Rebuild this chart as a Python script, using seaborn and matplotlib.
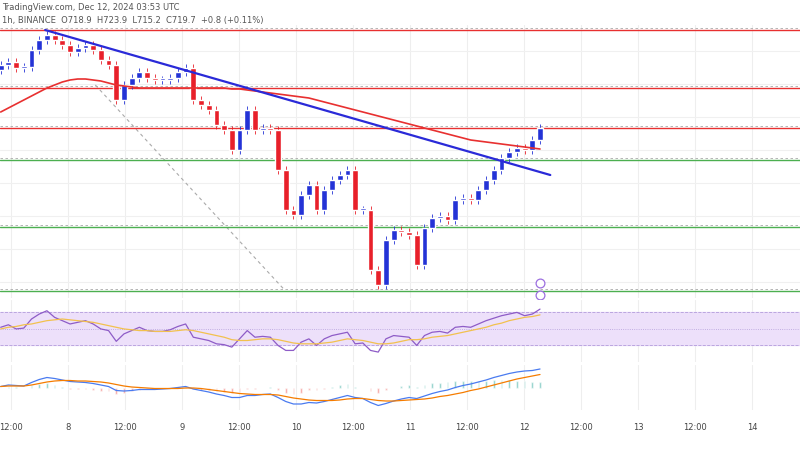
import matplotlib.pyplot as plt
import numpy as np
import pandas as pd
import seaborn as sns

sns.set_style("white")

# closes (price), one per candle
closes = [726.0, 726.3, 725.7, 725.8, 727.5, 728.5, 729.0, 728.5, 728.0, 727.3, 727.7,
          728.0, 727.5, 726.5, 726.0, 722.5, 724.0, 724.7, 725.3, 724.7, 724.5, 724.5,
          724.7, 725.3, 725.7, 722.5, 722.0, 721.5, 720.0, 719.5, 717.5, 719.5, 721.5,
          719.5, 719.7, 719.5, 715.5, 711.5, 711.0, 713.0, 714.0, 711.5, 713.5, 714.5,
          715.0, 715.5, 711.5, 711.5, 705.5, 704.0, 708.5, 709.5, 709.3, 709.0, 706.0,
          709.7, 710.7, 710.9, 710.5, 712.5, 712.7, 712.5, 713.5, 714.5, 715.5, 716.7,
          717.3, 717.7, 717.5, 718.5, 719.7]
rsi = [52, 55, 50, 51, 62, 68, 72, 64, 60, 56, 58, 60, 56, 50, 48, 35, 44, 48, 52, 48,
       47, 47, 49, 53, 56, 40, 38, 36, 32, 31, 28, 38, 48, 40, 41, 40, 30, 24, 24, 34,
       38, 30, 38, 42, 44, 46, 32, 33, 24, 22, 38, 42, 41, 40, 30, 42, 46, 47, 45, 52,
       53, 52, 56, 60, 63, 66, 68, 70, 66, 68, 74]
rsi_ma = [50, 52, 53, 55, 56, 58, 60, 61, 62, 61, 60, 59, 58, 56, 54, 52, 50, 49, 48, 48,
          47, 47, 47, 48, 49, 48, 46, 44, 42, 40, 37, 36, 36, 37, 38, 38, 37, 35, 33, 32,
          32, 32, 33, 34, 36, 38, 37, 36, 34, 32, 32, 33, 35, 37, 37, 38, 40, 41, 42, 44,
          46, 48, 50, 52, 55, 57, 60, 62, 64, 65, 67]
macd = [0.2, 0.5, 0.4, 0.3, 1.0, 1.6, 2.0, 1.8, 1.5, 1.2, 1.1, 1.0, 0.8, 0.5, 0.2, -0.6,
        -0.7, -0.6, -0.4, -0.4, -0.4, -0.3, -0.2, 0.0, 0.2, -0.3, -0.6, -0.9, -1.3, -1.6,
        -2.0, -2.0, -1.6, -1.6, -1.4, -1.3, -2.0, -2.8, -3.3, -3.3, -3.0, -3.1, -2.8, -2.4,
        -2.0, -1.6, -2.0, -2.2, -3.0, -3.6, -3.2, -2.7, -2.3, -2.0, -2.2, -1.7, -1.2, -0.8,
        -0.5, 0.0, 0.4, 0.7, 1.1, 1.5, 2.0, 2.4, 2.8, 3.1, 3.3, 3.4, 3.7]
signal = [0.2, 0.3, 0.3, 0.3, 0.5, 0.8, 1.1, 1.3, 1.4, 1.4, 1.3, 1.3, 1.2, 1.1, 0.9, 0.6,
          0.3, 0.1, 0.0, -0.1, -0.2, -0.2, -0.2, -0.2, -0.1, -0.1, -0.2, -0.4, -0.6, -0.8,
          -1.0, -1.2, -1.3, -1.4, -1.4, -1.4, -1.5, -1.8, -2.1, -2.3, -2.5, -2.6, -2.6, -2.6,
          -2.5, -2.3, -2.2, -2.2, -2.4, -2.6, -2.7, -2.7, -2.6, -2.5, -2.4, -2.3, -2.1, -1.8,
          -1.6, -1.3, -1.0, -0.6, -0.3, 0.1, 0.5, 0.9, 1.3, 1.7, 2.0, 2.3, 2.6]
ma100 = [721.3, 721.7, 722.1, 722.5, 722.9, 723.3, 723.7, 724.0, 724.3, 724.5, 724.6, 724.6,
         724.5, 724.4, 724.2, 724.0, 723.9, 723.8, 723.7, 723.7, 723.7, 723.7, 723.7, 723.7,
         723.7, 723.7, 723.7, 723.7, 723.7, 723.7, 723.6, 723.6, 723.5, 723.4, 723.3, 723.2,
         723.1, 723.0, 722.9, 722.8, 722.7, 722.5, 722.3, 722.1, 721.9, 721.7, 721.5, 721.3,
         721.1, 720.9, 720.7, 720.5, 720.3, 720.1, 719.9, 719.7, 719.5, 719.3, 719.1, 718.9,
         718.7, 718.5, 718.4, 718.3, 718.2, 718.1, 718.0, 717.9, 717.8, 717.7, 717.6]
red_levels = [729.5, 723.7, 719.7]
green_levels = [716.5, 709.8, 703.4]
trend_days = [7.8, 12.23]
trend_price = [729.5, 715.0]
day_ticks = [7.5, 8, 8.5, 9, 9.5, 10, 10.5, 11, 11.5, 12, 12.5, 13, 13.5, 14]
day_labels = ["12:00", "8", "12:00", "9", "12:00", "10", "12:00", "11", "12:00", "12",
              "12:00", "13", "12:00", "14"]

n = len(closes)
t = 7.41 + np.arange(n) * (12.14 - 7.41) / (n - 1)
opens = [closes[0] - 0.5] + closes[:-1]
df = pd.DataFrame({"t": t, "open": opens, "close": closes, "rsi": rsi, "rsi_ma": rsi_ma,
                   "macd": macd, "signal": signal, "ma": ma100})
up = "#2433d6"
dn = "#e8202a"

fig = plt.figure(figsize=(8, 4.5), dpi=100)
ax = fig.add_axes([0, 1 - 298 / 450, 1, 273 / 450])
ax2 = fig.add_axes([0, 1 - 362 / 450, 1, 62 / 450], sharex=ax)
ax3 = fig.add_axes([0, 1 - 410 / 450, 1, 45 / 450], sharex=ax)

for a in (ax, ax2, ax3):
    for d in day_ticks:
        a.axvline(d, color="#eeeeee", lw=0.8, zorder=0)
    a.set_yticks([])
    for s in a.spines.values():
        s.set_visible(False)
for p in np.arange(701, 732, 3.3):
    ax.axhline(p, color="#f0f0f0", lw=0.8, zorder=0)

w = (t[1] - t[0]) * 0.75
for _, r in df.iterrows():
    c = up if r.close >= r.open else dn
    lo, hi = min(r.open, r.close), max(r.open, r.close)
    ax.vlines(r.t, lo - 0.4, hi + 0.4, color=c, lw=0.6, zorder=3)
    ax.bar(r.t, max(hi - lo, 0.2), bottom=lo, width=w, color=c, zorder=3)

for lv in red_levels:
    ax.axhline(lv, color="#e83030", lw=1.0, zorder=2)
    ax.axhline(lv + 0.2, color="#aaaaaa", lw=0.6, ls=(0, (3, 3)), zorder=2)
for lv in green_levels:
    ax.axhline(lv, color="#4caf50", lw=1.0, zorder=2)
    ax.axhline(lv + 0.2, color="#aaaaaa", lw=0.6, ls=(0, (3, 3)), zorder=2)
sns.lineplot(data=df, x="t", y="ma", ax=ax, color="#e83030", lw=1.2, zorder=4)
ax.plot(trend_days, trend_price, color="#2a2ad8", lw=1.6, zorder=5)
ax.plot([8.24, 9.9], [724.0, 703.5], color="#aaaaaa", lw=0.8, ls=(0, (3, 3)), zorder=1)
ax.scatter([12.14, 12.14], [704.2, 703.0], s=40, facecolors="white",
           edgecolors="#9c6fe0", lw=0.9, zorder=6, clip_on=False)
ax.set_ylim(702.7, 730.0)
ax.set_xlim(7.404, 14.42)
ax.set_xlabel("")
ax.set_ylabel("")
ax.tick_params(labelbottom=False, bottom=False)
fig.text(0.003, 1 - 7 / 450, "TradingView.com, Dec 12, 2024 03:53 UTC",
         fontsize=6, color="#555555", va="center")
fig.text(0.003, 1 - 21 / 450, "1h, BINANCE  O718.9  H723.9  L715.2  C719.7  +0.8 (+0.11%)",
         fontsize=6, color="#555555", va="center")

ax2.axhspan(30, 70, color="#ede0fa", zorder=0)
for lv, ls in [(70, "--"), (50, ":"), (30, "--")]:
    ax2.axhline(lv, color="#b39ddb", lw=0.6, ls=ls)
sns.lineplot(data=df, x="t", y="rsi", ax=ax2, color="#8e5cc7", lw=0.9)
sns.lineplot(data=df, x="t", y="rsi_ma", ax=ax2, color="#f2c14e", lw=0.9)
ax2.set_ylim(10, 85)
ax2.set_xlabel("")
ax2.set_ylabel("")
ax2.tick_params(labelbottom=False, bottom=False)

hist = df.macd - df.signal
ax3.bar(df.t, hist, width=w * 0.3, color=["#26a69a" if h >= 0 else "#ef5350" for h in hist],
        alpha=0.6)
sns.lineplot(data=df, x="t", y="macd", ax=ax3, color="#4a7bf0", lw=0.9)
sns.lineplot(data=df, x="t", y="signal", ax=ax3, color="#f57c00", lw=0.9)
ax3.set_ylim(-4.5, 4.5)
ax3.set_xlabel("")
ax3.set_ylabel("")
ax3.set_xticks(day_ticks)
ax3.set_xticklabels(day_labels, fontsize=6, color="#444444")
ax3.tick_params(bottom=False, pad=6)

fig.savefig("out.png", dpi=100, facecolor="white")
